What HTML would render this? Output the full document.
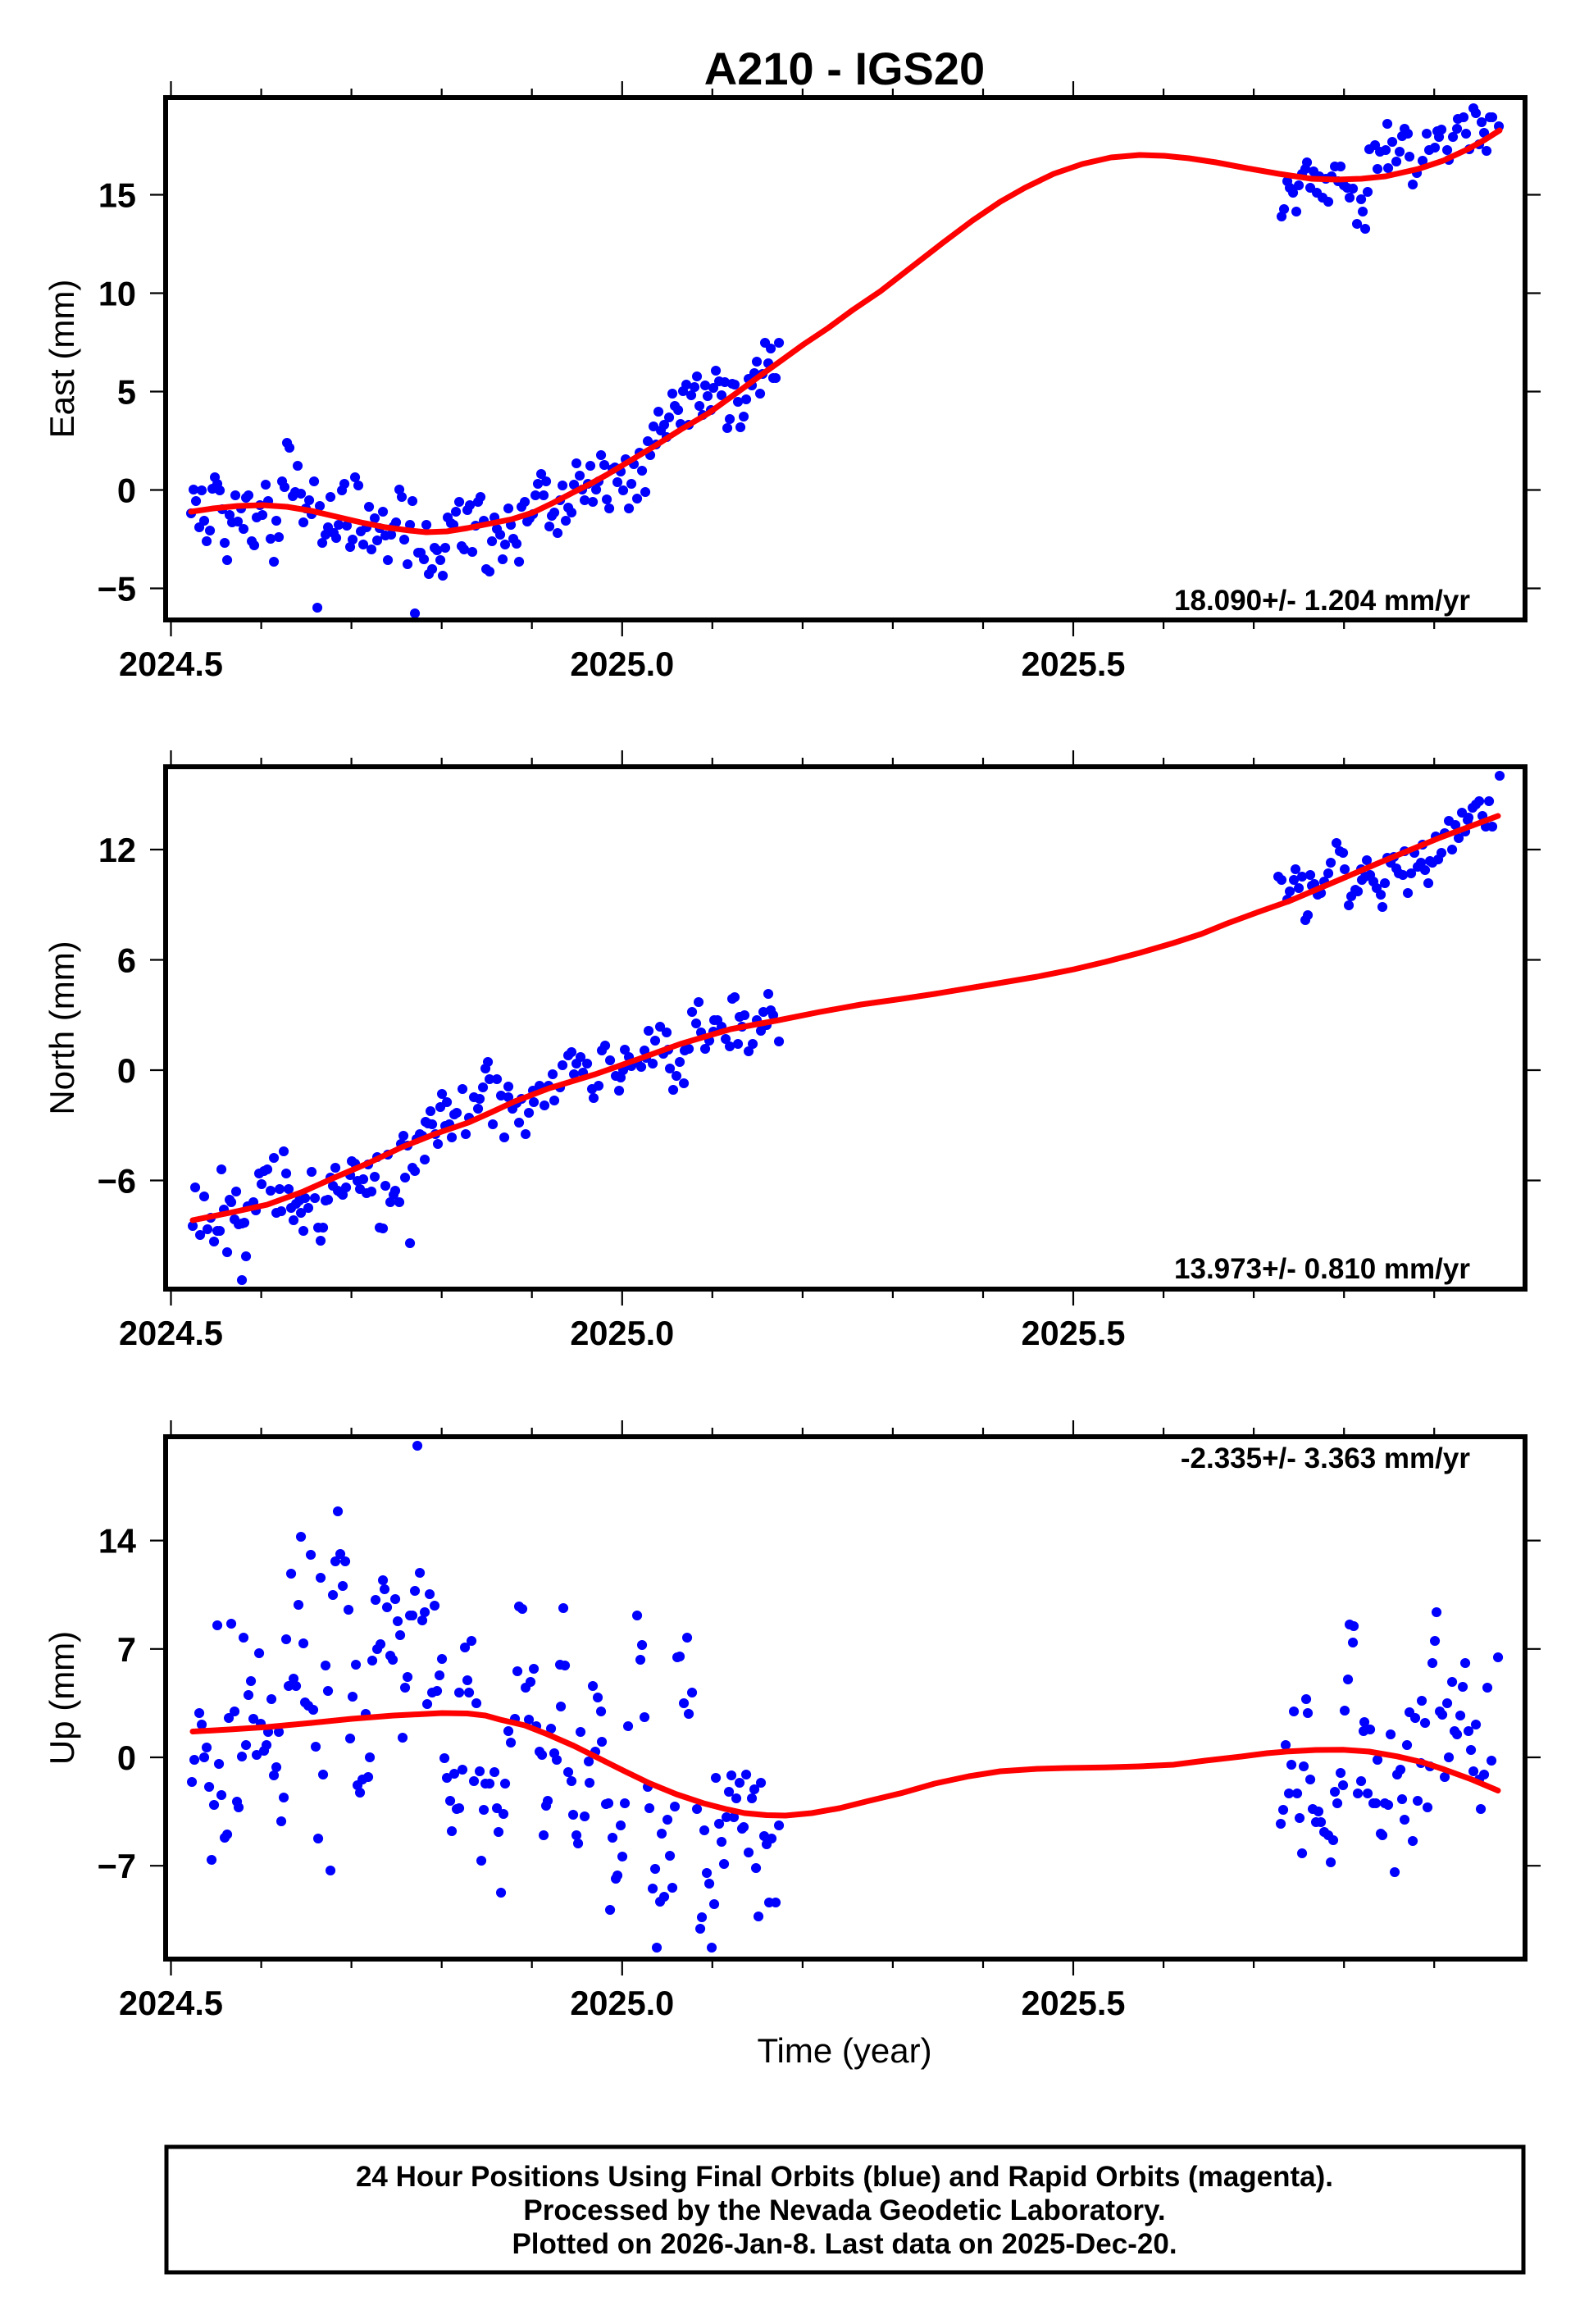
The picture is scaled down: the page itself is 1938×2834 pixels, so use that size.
<!DOCTYPE html>
<html><head><meta charset="utf-8"><style>html,body{margin:0;padding:0;background:#fff;overflow:hidden}svg{display:block}</style></head>
<body>
<svg width="1938" height="2834" viewBox="0 0 1938 2834" xmlns="http://www.w3.org/2000/svg" font-family="'Liberation Sans', Arial, Helvetica, sans-serif">
<rect width="1938" height="2834" fill="#fff"/>
<defs>
<path id="xtop" d="M208.5 -3V-20M318.6 -3V-11M428.6 -3V-11M538.7 -3V-11M648.7 -3V-11M758.8 -3V-20M868.8 -3V-11M978.9 -3V-11M1088.9 -3V-11M1199 -3V-11M1309 -3V-20M1419.1 -3V-11M1529.1 -3V-11M1639.2 -3V-11M1749.2 -3V-11" stroke="#000" stroke-width="2.2" fill="none"/>
<path id="xbot" d="M208.5 3V20M318.6 3V11M428.6 3V11M538.7 3V11M648.7 3V11M758.8 3V20M868.8 3V11M978.9 3V11M1088.9 3V11M1199 3V11M1309 3V20M1419.1 3V11M1529.1 3V11M1639.2 3V11M1749.2 3V11" stroke="#000" stroke-width="2.2" fill="none"/>
</defs>

<!-- Title -->
<text x="1030" y="103" font-size="56" font-weight="bold" text-anchor="middle">A210 - IGS20</text>

<!-- ================= EAST ================= -->
<path fill="none" stroke="#0000ff" stroke-width="12" stroke-linecap="round" d="M233 626h.1M236 597h.1M239 611h.1M243 643h.1M246 598h.1M249 635h.1M252 660h.1M256 647h.1M259 596h.1M262 582h.1M265 590h.1M268 598h.1M271 621h.1M274 662h.1M277 683h.1M280 628h.1M283 637h.1M287 604h.1M290 636h.1M294 620h.1M297 645h.1M300 607h.1M303 604h.1M307 660h.1M310 665h.1M313 631h.1M317 616h.1M320 628h.1M324 591h.1M327 611h.1M330 657h.1M334 685h.1M337 635h.1M340 655h.1M344 587h.1M347 594h.1M350 540h.1M353 546h.1M357 605h.1M360 600h.1M363 568h.1M367 602h.1M370 637h.1M373 620h.1M377 610h.1M380 627h.1M383 587h.1M387 741h.1M390 617h.1M393 662h.1M397 652h.1M400 643h.1M403 606h.1M407 650h.1M410 656h.1M413 640h.1M417 598h.1M420 590h.1M423 641h.1M427 667h.1M430 658h.1M433 582h.1M437 592h.1M440 648h.1M443 664h.1M447 643h.1M450 618h.1M453 670h.1M457 632h.1M460 659h.1M463 644h.1M467 624h.1M470 653h.1M473 683h.1M477 652h.1M480 642h.1M483 637h.1M487 597h.1M490 606h.1M493 658h.1M497 688h.1M500 640h.1M503 611h.1M506 748h.1M510 674h.1M513 674h.1M517 682h.1M520 640h.1M523 700h.1M527 694h.1M530 668h.1M533 671h.1M537 683h.1M540 702h.1M543 668h.1M546 631h.1M550 638h.1M553 640h.1M556 624h.1M560 612h.1M563 666h.1M566 670h.1M570 622h.1M573 616h.1M576 673h.1M580 641h.1M583 612h.1M586 606h.1M590 635h.1M593 694h.1M597 697h.1M600 660h.1M603 631h.1M606 645h.1M610 652h.1M613 682h.1M616 664h.1M620 620h.1M623 640h.1M626 657h.1M630 663h.1M633 685h.1M636 618h.1M640 612h.1M643 636h.1M646 632h.1M650 627h.1M653 604h.1M656 590h.1M660 578h.1M663 604h.1M666 587h.1M670 642h.1M673 629h.1M676 625h.1M680 650h.1M683 610h.1M686 592h.1M690 635h.1M693 619h.1M697 625h.1M700 591h.1M703 565h.1M707 580h.1M710 597h.1M713 610h.1M717 590h.1M720 568h.1M723 612h.1M727 597h.1M730 587h.1M733 555h.1M737 567h.1M740 609h.1M743 620h.1M747 572h.1M750 570h.1M753 588h.1M757 575h.1M760 598h.1M763 560h.1M767 620h.1M770 590h.1M773 566h.1M777 608h.1M780 552h.1M783 574h.1M787 600h.1M790 538h.1M793 555h.1M797 520h.1M800 542h.1M803 502h.1M806 525h.1M810 518h.1M813 533h.1M816 509h.1M820 480h.1M823 495h.1M827 500h.1M830 517h.1M833 477h.1M837 469h.1M840 518h.1M843 482h.1M847 472h.1M850 459h.1M853 495h.1M857 506h.1M860 470h.1M863 483h.1M867 500h.1M870 473h.1M873 452h.1M877 465h.1M880 482h.1M884 466h.1M887 522h.1M890 511h.1M893 468h.1M896 469h.1M900 490h.1M903 521h.1M907 508h.1M910 487h.1M913 462h.1M917 470h.1M920 455h.1M923 441h.1M927 480h.1M930 456h.1M933 418h.1M937 443h.1M940 425h.1M943 461h.1M946 461h.1M950 418h.1
M1563 264h.1M1566 255h.1M1570 221h.1M1573 229h.1M1577 235h.1M1581 258h.1M1584 226h.1M1588 212h.1M1592 206h.1M1594 198h.1M1598 229h.1M1602 209h.1M1606 235h.1M1609 215h.1M1613 241h.1M1617 218h.1M1620 246h.1M1624 215h.1M1628 203h.1M1632 221h.1M1635 203h.1M1639 226h.1M1643 229h.1M1646 241h.1M1650 230h.1M1660 243h.1M1662 258h.1M1655 273h.1M1665 279h.1M1668 234h.1M1670 182h.1M1677 177h.1M1683 185h.1M1690 183h.1M1680 206h.1M1693 205h.1M1692 151h.1M1698 173h.1M1703 197h.1M1707 185h.1M1710 166h.1M1713 157h.1M1717 163h.1M1719 191h.1M1723 225h.1M1728 211h.1M1735 196h.1M1740 163h.1M1743 183h.1M1750 180h.1M1753 160h.1M1755 167h.1M1758 158h.1M1765 183h.1M1767 195h.1M1772 167h.1M1777 157h.1M1778 145h.1M1785 143h.1M1788 163h.1M1792 182h.1M1797 132h.1M1800 138h.1M1804 176h.1M1807 149h.1M1810 162h.1M1813 184h.1M1817 143h.1M1820 143h.1M1828 154h.1"/>
<path fill="none" stroke="#ff0000" stroke-width="7" stroke-linejoin="round" stroke-linecap="round" d="M233 624L260 620L290 617L320 616L350 618L380 623L410 630L440 637L470 643L500 647L520 649L545 648L570 644L600 638L625 633L650 625L675 613L700 600L720 590L740 579L770 561L800 543L830 524L864 504L900 478L930 456L951 441L980 420L1010 400L1040 378L1074 355L1110 327L1150 296L1186 269L1220 246L1250 229L1285 212L1320 200L1355 192L1390 189L1420 190L1450 193L1483 198L1520 205L1560 212L1600 218L1631 219L1660 218L1690 215L1730 206L1760 196L1790 182L1810 171L1829 159"/>
<rect x="202" y="119" width="1658" height="637" fill="none" stroke="#000" stroke-width="6"/>
<use href="#xtop" transform="translate(0,119)"/>
<use href="#xbot" transform="translate(0,756)"/>
<path stroke="#000" stroke-width="2.2" d="M183 237.5H199M183 357.5H199M183 477.5H199M183 597.5H199M183 717.5H199M1863 237.5H1879M1863 357.5H1879M1863 477.5H1879M1863 597.5H1879M1863 717.5H1879"/>
<g font-size="41.5" font-weight="bold" text-anchor="end">
<text x="166" y="252.5">15</text><text x="166" y="372.5">10</text><text x="166" y="492.5">5</text><text x="166" y="612.5">0</text><text x="166" y="732.5">−5</text>
</g>
<g font-size="41.5" font-weight="bold" text-anchor="middle">
<text x="208.5" y="824">2024.5</text><text x="758.8" y="824">2025.0</text><text x="1309" y="824">2025.5</text>
</g>
<text transform="translate(90,437.5) rotate(-90)" font-size="42" text-anchor="middle">East (mm)</text>
<text x="1793" y="744" font-size="35" font-weight="bold" text-anchor="end">18.090+/- 1.204 mm/yr</text>

<!-- ================= NORTH ================= -->
<path fill="none" stroke="#0000ff" stroke-width="12" stroke-linecap="round" d="M235 1495h.1M238 1448h.1M244 1506h.1M249 1459h.1M253 1499h.1M257 1485h.1M261 1514h.1M265 1501h.1M268 1501h.1M270 1426h.1M273 1475h.1M277 1527h.1M280 1463h.1M282 1466h.1M286 1487h.1M288 1453h.1M291 1493h.1M295 1492h.1M298 1491h.1M300 1532h.1M295 1561h.1M302 1471h.1M309 1466h.1M312 1476h.1M316 1431h.1M319 1444h.1M322 1428h.1M326 1426h.1M330 1452h.1M334 1412h.1M337 1479h.1M341 1450h.1M343 1477h.1M346 1404h.1M349 1431h.1M352 1450h.1M355 1473h.1M358 1488h.1M361 1468h.1M365 1464h.1M367 1479h.1M370 1501h.1M372 1461h.1M376 1473h.1M380 1429h.1M384 1461h.1M388 1497h.1M391 1513h.1M394 1497h.1M397 1464h.1M400 1463h.1M403 1436h.1M406 1446h.1M409 1424h.1M412 1452h.1M416 1455h.1M418 1457h.1M422 1448h.1M427 1433h.1M429 1416h.1M433 1419h.1M436 1440h.1M439 1450h.1M443 1438h.1M447 1455h.1M449 1420h.1M453 1453h.1M457 1435h.1M460 1411h.1M463 1497h.1M467 1498h.1M470 1446h.1M473 1408h.1M476 1466h.1M480 1457h.1M482 1452h.1M487 1466h.1M489 1395h.1M492 1385h.1M494 1436h.1M497 1397h.1M500 1516h.1M503 1424h.1M506 1428h.1M508 1389h.1M512 1383h.1M515 1385h.1M518 1414h.1M519 1368h.1M522 1370h.1M525 1355h.1M527 1371h.1M531 1383h.1M534 1395h.1M537 1350h.1M539 1334h.1M543 1373h.1M545 1344h.1M548 1371h.1M551 1387h.1M554 1359h.1M557 1357h.1
M564 1328h.1M568 1383h.1M572 1363h.1M578 1338h.1M583 1352h.1M585 1340h.1M589 1326h.1M592 1303h.1M595 1295h.1M597 1316h.1M606 1316h.1M601 1371h.1M611 1336h.1M615 1387h.1M620 1338h.1M620 1325h.1M625 1352h.1M630 1345h.1M633 1369h.1M636 1340h.1M641 1383h.1M645 1357h.1M650 1330h.1M651 1344h.1M658 1324h.1M664 1348h.1M669 1324h.1M676 1342h.1M674 1310h.1M683 1326h.1M686 1299h.1M693 1287h.1M697 1283h.1M700 1310h.1M703 1297h.1M708 1289h.1M711 1308h.1M716 1297h.1M722 1328h.1M724 1339h.1M730 1324h.1M734 1281h.1M738 1275h.1M744 1293h.1M751 1312h.1M755 1330h.1M757 1314h.1M760 1305h.1M762 1280h.1M767 1289h.1M770 1300h.1M777 1295h.1M782 1301h.1M786 1281h.1M788 1290h.1M791 1257h.1M796 1297h.1M799 1269h.1M805 1252h.1M809 1285h.1M813 1259h.1M815 1280h.1M817 1303h.1M821 1329h.1M825 1312h.1M829 1295h.1M834 1321h.1M835 1281h.1M840 1279h.1M844 1234h.1M849 1248h.1M852 1222h.1M855 1259h.1M860 1279h.1M865 1269h.1M870 1258h.1M871 1244h.1M875 1244h.1M880 1252h.1M885 1267h.1M890 1276h.1M893 1218h.1M896 1216h.1M900 1273h.1M902 1240h.1M905 1252h.1M908 1238h.1M913 1282h.1M918 1273h.1M923 1244h.1M928 1257h.1M931 1234h.1M935 1250h.1M937 1212h.1M940 1232h.1M943 1238h.1M950 1270h.1
M1559 1069h.1M1563 1073h.1M1570 1097h.1M1573 1087h.1M1578 1073h.1M1580 1060h.1M1584 1083h.1M1588 1069h.1M1592 1122h.1M1595 1116h.1M1598 1067h.1M1600 1080h.1M1603 1078h.1M1607 1091h.1M1611 1089h.1M1615 1075h.1M1620 1065h.1M1623 1052h.1M1630 1028h.1M1634 1038h.1M1638 1040h.1M1640 1060h.1M1645 1104h.1M1648 1093h.1M1653 1085h.1M1656 1087h.1M1660 1060h.1M1661 1073h.1M1665 1069h.1M1667 1049h.1M1671 1067h.1M1675 1075h.1M1679 1083h.1M1684 1091h.1M1686 1106h.1M1689 1077h.1M1692 1046h.1M1696 1052h.1M1700 1045h.1M1703 1059h.1M1706 1065h.1M1711 1067h.1M1713 1038h.1M1717 1089h.1M1721 1065h.1M1725 1040h.1M1729 1057h.1M1733 1052h.1M1735 1030h.1M1738 1061h.1M1742 1077h.1M1744 1050h.1M1747 1052h.1M1751 1020h.1M1754 1048h.1M1758 1040h.1M1762 1016h.1M1767 1001h.1M1771 1036h.1M1775 1006h.1M1779 1022h.1M1783 991h.1M1787 1014h.1M1790 1000h.1M1791 997h.1M1796 985h.1M1800 981h.1M1804 977h.1M1808 995h.1M1812 1008h.1M1816 977h.1M1820 1008h.1M1829 946h.1"/>
<path fill="none" stroke="#ff0000" stroke-width="7" stroke-linejoin="round" stroke-linecap="round" d="M235 1488L280 1479L326 1469L370 1453L408 1436L450 1418L490 1399L530 1383L571 1369L600 1356L628 1343L670 1327L726 1310L780 1291L830 1273L891 1255L950 1244L1000 1234L1050 1225L1100 1218L1140 1212L1200 1202L1265 1191L1310 1182L1348 1173L1390 1162L1431 1150L1465 1139L1497 1126L1535 1112L1572 1099L1605 1085L1638 1071L1680 1053L1721 1036L1755 1022L1787 1010L1827 995"/>
<rect x="202" y="935" width="1658" height="637" fill="none" stroke="#000" stroke-width="6"/>
<use href="#xtop" transform="translate(0,935)"/>
<use href="#xbot" transform="translate(0,1572)"/>
<path stroke="#000" stroke-width="2.2" d="M183 1036H199M183 1170.5H199M183 1305H199M183 1439.5H199M1863 1036H1879M1863 1170.5H1879M1863 1305H1879M1863 1439.5H1879"/>
<g font-size="41.5" font-weight="bold" text-anchor="end">
<text x="166" y="1051">12</text><text x="166" y="1185.5">6</text><text x="166" y="1320">0</text><text x="166" y="1454.5">−6</text>
</g>
<g font-size="41.5" font-weight="bold" text-anchor="middle">
<text x="208.5" y="1640">2024.5</text><text x="758.8" y="1640">2025.0</text><text x="1309" y="1640">2025.5</text>
</g>
<text transform="translate(90,1253.5) rotate(-90)" font-size="42" text-anchor="middle">North (mm)</text>
<text x="1793" y="1559" font-size="35" font-weight="bold" text-anchor="end">13.973+/- 0.810 mm/yr</text>

<!-- ================= UP ================= -->
<path fill="none" stroke="#0000ff" stroke-width="12" stroke-linecap="round" d="M234 2173h.1M237 2146h.1M243 2089h.1M246 2103h.1M249 2143h.1M252 2131h.1M255 2179h.1M258 2268h.1M261 2201h.1M265 1982h.1M267 2151h.1M270 2189h.1M274 2241h.1M277 2237h.1M279 2095h.1M282 1980h.1M286 2087h.1M289 2197h.1M291 2204h.1M295 2142h.1M297 1997h.1M300 2128h.1M303 2067h.1M306 2050h.1M309 2096h.1M313 2140h.1M316 2016h.1M318 2102h.1M322 2135h.1M325 2128h.1M327 2112h.1M331 2072h.1M334 2165h.1M337 2155h.1M340 2112h.1M343 2221h.1M346 2192h.1M349 1999h.1M352 2056h.1M355 1919h.1M358 2047h.1M361 2056h.1M364 1957h.1M367 1874h.1M370 2004h.1M372 2076h.1M376 2080h.1M379 1896h.1M382 2085h.1M385 2130h.1M388 2242h.1M391 1924h.1M394 2164h.1M397 2031h.1M400 2062h.1M403 2281h.1M406 1945h.1M409 1904h.1M412 1843h.1M415 1895h.1M418 1934h.1M421 1904h.1M425 1963h.1M427 2120h.1M430 2069h.1M434 2030h.1M436 2177h.1M439 2186h.1M442 2170h.1M446 2090h.1M449 2167h.1M451 2143h.1M454 2025h.1M458 1951h.1M460 2011h.1M464 2005h.1M467 1927h.1M469 1938h.1M472 1960h.1M476 2019h.1M479 2024h.1M482 1950h.1M485 1977h.1M488 1994h.1M491 2119h.1M494 2058h.1M497 2045h.1M500 1970h.1M503 1970h.1M506 1940h.1M509 1763h.1M512 1918h.1M515 1976h.1M518 1966h.1M521 2078h.1M524 1944h.1M527 2064h.1M530 1958h.1M533 2062h.1M536 2043h.1M539 2023h.1M542 2144h.1M545 2168h.1M549 2196h.1M551 2233h.1M554 2163h.1M557 2206h.1
M567 2009h.1M575 2001h.1M570 2049h.1M560 2064h.1M572 2064h.1M581 2077h.1M564 2158h.1M578 2172h.1M585 2160h.1M592 2175h.1M597 2175h.1M603 2161h.1M616 2175h.1M560 2205h.1M590 2207h.1M606 2205h.1M614 2212h.1M608 2234h.1M587 2269h.1M611 2308h.1M620 2111h.1M623 2125h.1M628 2096h.1M631 2038h.1M633 1959h.1M637 1962h.1M641 2058h.1M645 2097h.1M647 2051h.1M651 2035h.1M654 2105h.1M658 2136h.1M661 2140h.1M666 2202h.1M668 2196h.1M663 2238h.1M672 2108h.1M676 2138h.1M679 2146h.1M683 2030h.1M684 2081h.1M687 1961h.1M689 2031h.1M693 2161h.1M697 2172h.1M699 2213h.1M703 2238h.1M705 2248h.1M708 2112h.1M713 2215h.1M718 2148h.1M719 2174h.1M723 2056h.1M726 2136h.1M729 2070h.1M733 2087h.1M734 2124h.1M739 2200h.1M742 2199h.1M744 2329h.1M747 2241h.1M751 2291h.1M753 2287h.1M757 2226h.1M759 2264h.1M762 2199h.1M766 2105h.1M777 1970h.1M781 2024h.1M783 2006h.1M786 2094h.1M790 2179h.1M792 2205h.1M796 2303h.1M799 2279h.1M801 2375h.1M805 2319h.1M807 2236h.1M810 2313h.1M814 2219h.1M817 2263h.1M820 2302h.1M823 2203h.1M826 2021h.1M829 2020h.1M834 2077h.1M838 1997h.1M840 2090h.1M844 2064h.1M850 2206h.1M854 2352h.1M856 2338h.1M859 2232h.1M862 2284h.1M865 2297h.1M868 2375h.1M871 2322h.1M873 2168h.1M877 2224h.1M880 2246h.1M883 2273h.1M886 2216h.1M889 2185h.1M892 2165h.1M895 2216h.1M898 2193h.1M902 2174h.1M905 2230h.1M907 2228h.1M910 2164h.1M913 2259h.1M917 2193h.1M920 2182h.1M922 2278h.1M925 2337h.1M928 2174h.1M932 2239h.1M935 2249h.1M938 2320h.1M941 2242h.1M946 2320h.1M950 2226h.1
M1562 2224h.1M1565 2207h.1M1568 2128h.1M1572 2187h.1M1575 2152h.1M1578 2087h.1M1582 2187h.1M1585 2217h.1M1588 2260h.1M1590 2154h.1M1593 2072h.1M1595 2089h.1M1598 2170h.1M1601 2206h.1M1605 2222h.1M1608 2209h.1M1611 2222h.1M1615 2234h.1M1620 2238h.1M1623 2271h.1M1626 2244h.1M1628 2185h.1M1631 2199h.1M1635 2162h.1M1638 2177h.1M1640 2086h.1M1644 2048h.1M1646 1981h.1M1650 2003h.1M1651 1983h.1M1656 2187h.1M1660 2172h.1M1663 2111h.1M1664 2100h.1M1668 2187h.1M1671 2109h.1M1675 2199h.1M1678 2199h.1M1680 2146h.1M1684 2236h.1M1686 2238h.1M1689 2199h.1M1693 2201h.1M1696 2115h.1M1701 2283h.1M1704 2164h.1M1708 2158h.1M1710 2194h.1M1713 2219h.1M1716 2128h.1M1719 2088h.1M1723 2245h.1M1726 2095h.1M1729 2196h.1M1733 2150h.1M1734 2074h.1M1738 2101h.1M1741 2204h.1M1744 2154h.1M1747 2028h.1M1750 2001h.1M1752 1966h.1M1756 2087h.1M1759 2091h.1M1762 2167h.1M1765 2077h.1M1767 2143h.1M1771 2051h.1M1774 2111h.1M1777 2115h.1M1781 2092h.1M1784 2057h.1M1787 2028h.1M1791 2111h.1M1794 2134h.1M1797 2160h.1M1800 2103h.1M1804 2170h.1M1806 2206h.1M1810 2164h.1M1814 2058h.1M1819 2147h.1M1827 2021h.1"/>
<path fill="none" stroke="#ff0000" stroke-width="7" stroke-linejoin="round" stroke-linecap="round" d="M235 2111.5L280 2109L326 2106L380 2101L429 2096L480 2092L539 2089L570 2089.5L592 2092L610 2097L640 2104L668 2115L700 2129L726 2142L760 2159L792 2174.5L825 2188L858 2199L885 2206L908 2211L935 2213.5L958 2214L990 2211L1024 2205L1060 2196L1099 2186.7L1140 2175L1182 2166L1220 2160L1265 2157L1300 2156L1348 2155.3L1390 2154L1431 2152L1470 2147L1514 2142L1545 2138L1572 2135.7L1605 2134L1638 2133.7L1670 2136L1704 2141.8L1735 2149L1762 2158L1795 2170L1827 2183.5"/>
<rect x="202" y="1752" width="1658" height="637" fill="none" stroke="#000" stroke-width="6"/>
<use href="#xtop" transform="translate(0,1752)"/>
<use href="#xbot" transform="translate(0,2389)"/>
<path stroke="#000" stroke-width="2.2" d="M183 1878.6H199M183 2010.8H199M183 2143H199M183 2275.2H199M1863 1878.6H1879M1863 2010.8H1879M1863 2143H1879M1863 2275.2H1879"/>
<g font-size="41.5" font-weight="bold" text-anchor="end">
<text x="166" y="1893.6">14</text><text x="166" y="2025.8">7</text><text x="166" y="2158">0</text><text x="166" y="2290.2">−7</text>
</g>
<g font-size="41.5" font-weight="bold" text-anchor="middle">
<text x="208.5" y="2457">2024.5</text><text x="758.8" y="2457">2025.0</text><text x="1309" y="2457">2025.5</text>
</g>
<text transform="translate(90,2070.5) rotate(-90)" font-size="42" text-anchor="middle">Up (mm)</text>
<text x="1793" y="1790" font-size="35" font-weight="bold" text-anchor="end">-2.335+/- 3.363 mm/yr</text>

<text x="1030" y="2515" font-size="42" text-anchor="middle">Time (year)</text>

<!-- Footer box -->
<rect x="203" y="2618" width="1655" height="153" fill="none" stroke="#000" stroke-width="5"/>
<g font-size="35" font-weight="bold" text-anchor="middle">
<text x="1030" y="2666">24 Hour Positions Using Final Orbits (blue) and Rapid Orbits (magenta).</text>
<text x="1030" y="2707">Processed by the Nevada Geodetic Laboratory.</text>
<text x="1030" y="2748">Plotted on 2026-Jan-8. Last data on 2025-Dec-20.</text>
</g>
</svg>
</body></html>
